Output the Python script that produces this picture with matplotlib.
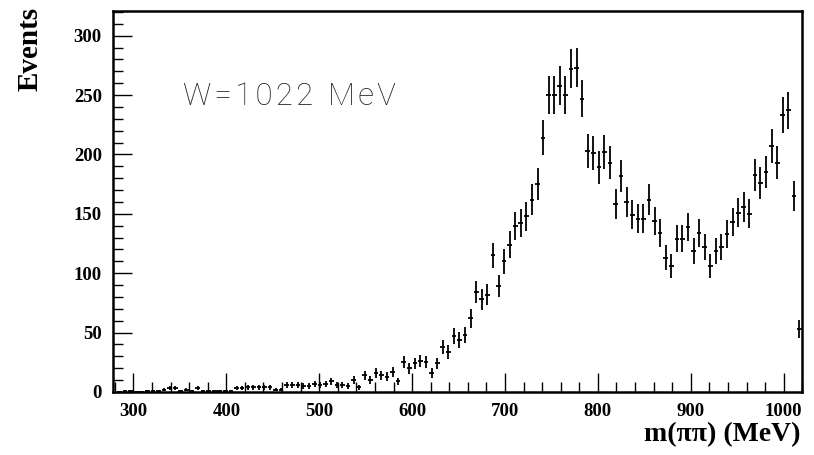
#!/usr/bin/env python3
"""
m(pipi) spectrum at W=1022 MeV, drawn as a PAW-style histogram with
error crosses (6 MeV bins).
"""

import numpy as np
import matplotlib
matplotlib.use("Agg")
import matplotlib.pyplot as plt
from matplotlib.ticker import MultipleLocator

BIN_LO = 282      # lower edge of the first bin (MeV)
BIN_W = 6         # bin width (MeV)

# events per bin, from 285 MeV up to 1017 MeV
COUNTS = [
    0, 1, 1, 0, 0, 1, 1, 1, 2, 3,            # 285 - 339
    3, 1, 2, 1, 3, 1, 1, 1, 1, 1,            # 345 - 399
    1, 3, 3, 4, 4, 4, 4, 4, 2, 2,            # 405 - 459
    6, 6, 6, 5, 5, 7, 6, 7, 9, 6,            # 465 - 519
    6, 5, 10, 4, 14, 10, 16, 14, 13, 17,     # 525 - 579
    9, 25, 20, 24, 26, 25, 16, 24, 38, 34,   # 585 - 639
    47, 44, 48, 62, 84, 78, 82, 115, 89, 110,        # 645 - 699
    124, 140, 142, 148, 162, 175, 214, 250, 250, 258,  # 705 - 759
    250, 272, 273, 247, 203, 201, 189, 202, 193, 158,  # 765 - 819
    182, 160, 149, 146, 146, 162, 144, 134, 113, 106,  # 825 - 879
    129, 129, 139, 119, 134, 122, 106, 119, 122, 133,  # 885 - 939
    143, 151, 156, 150, 183, 176, 185, 207, 193, 233,  # 945 - 999
    237, 165, 53,                                      # 1005 - 1017
]

Y_TICKS = [0, 50, 100, 150, 200, 250, 300]
X_TICKS = [300, 400, 500, 600, 700, 800, 900, 1000]

LABEL_FONT = dict(family="Liberation Serif", weight="bold")


def main() -> None:
    counts = np.array(COUNTS, dtype=float)
    centers = BIN_LO + BIN_W / 2 + BIN_W * np.arange(len(counts))
    errors = np.sqrt(counts)   # Poisson errors

    fig = plt.figure(figsize=(8.14, 4.55), dpi=100)
    ax = fig.add_axes([0.1388, 0.1385, 0.8468, 0.838])

    ax.errorbar(centers, counts, yerr=errors, xerr=2.5, fmt="none",
                ecolor="black", elinewidth=1.3, capsize=0)

    ax.set_xlim(278, 1020)
    ax.set_ylim(0, 321)

    ax.set_xticks(X_TICKS)
    ax.set_yticks(Y_TICKS)
    ax.xaxis.set_minor_locator(MultipleLocator(20))
    ax.yaxis.set_minor_locator(MultipleLocator(10))
    ax.tick_params(which="both", direction="in", top=False, right=False,
                   width=1.0, color="black")
    ax.tick_params(which="major", length=14, pad=8)
    ax.tick_params(which="minor", length=7)
    for lab in ax.get_xticklabels() + ax.get_yticklabels():
        lab.set_fontfamily("Liberation Serif")
        lab.set_fontweight("bold")
        lab.set_fontsize(13.5)

    for sp in ax.spines.values():
        sp.set_linewidth(1.8)

    # thin, widely spaced annotation: letters spread with hair spaces
    ax.text(0.101, 0.775, "W\u200a=\u200a1\u200a0\u200a2\u200a2  M\u200ae\u200aV",
            transform=ax.transAxes, fontsize=22.5,
            family=["Roboto", "DejaVu Sans"], weight="light", color="#222222",
            va="center", ha="left")

    fig.text(0.037, 0.985, "Events", rotation=90, ha="center", va="top",
             fontsize=21, **LABEL_FONT)
    fig.text(0.983, 0.045, "m(\u03c0\u03c0) (MeV)", ha="right", va="center",
             fontsize=20, **LABEL_FONT)

    fig.savefig("out.png", dpi=100)
    plt.close(fig)


if __name__ == "__main__":
    main()
